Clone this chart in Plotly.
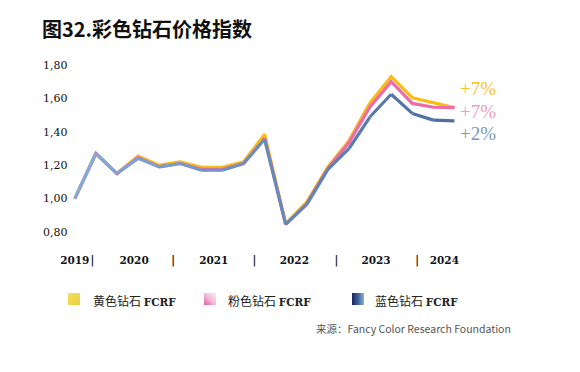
import base64
import plotly.graph_objects as go

# ---------------- data ----------------
quarters = ["2019Q4", "2020Q1", "2020Q2", "2020Q3", "2020Q4", "2021Q1", "2021Q2",
            "2021Q3", "2021Q4", "2022Q1", "2022Q2", "2022Q3", "2022Q4", "2023Q1",
            "2023Q2", "2023Q3", "2023Q4", "2024Q1", "2024Q2"]
yellow = [1.00, 1.27, 1.15, 1.255, 1.20, 1.22, 1.187, 1.187, 1.22, 1.385, 0.848,
          0.98, 1.19, 1.347, 1.574, 1.73, 1.604, 1.574, 1.545]
pink = [1.00, 1.27, 1.15, 1.245, 1.19, 1.21, 1.175, 1.175, 1.21, 1.36, 0.845,
        0.97, 1.18, 1.335, 1.55, 1.70, 1.57, 1.547, 1.545]
blue = [1.00, 1.27, 1.15, 1.241, 1.19, 1.21, 1.17, 1.17, 1.21, 1.355, 0.845,
        0.965, 1.175, 1.30, 1.49, 1.625, 1.51, 1.47, 1.465]
series_names = ["黄色钻石", "粉色钻石", "蓝色钻石"]
changes = ["+7%", "+7%", "+2%"]
x_tick_text = ["2019", "|", "2020", "|", "2021", "|", "2022", "|", "2023", "|", "2024"]
y_ticks = [0.8, 1.0, 1.2, 1.4, 1.6, 1.8]

# ---------------- layout constants ----------------
# the page body has an 8px margin, so figure coords = screen coords - 8
OFF = 8
W, H = 572, 364
ML, MT = 32, 55 - OFF
PW, PH = 425, 190
MR, MB = W - ML - PW, H - MT - PH
XR = [-1.65, 18.5]
x_tick_pos = [0.0, 0.84, 2.81, 4.66, 6.59, 8.52, 10.41, 12.4, 14.28, 16.23, 17.52]

YELLOW = "#F9BD16"
PINK = "#EE6BAA"
serif = "Liberation Serif"
tserif = "DejaVu Serif"
cjk = "Noto Sans CJK SC"


def px(sx):
    return (sx - OFF - ML) / PW


def py(sy):
    return 1 - (sy - OFF - MT) / PH


def hexrgb(h):
    h = h.lstrip("#")
    return tuple(int(h[i:i + 2], 16) for i in (0, 2, 4))


def lerp(c1, c2, t):
    a, b = hexrgb(c1), hexrgb(c2)
    return "rgb(%d,%d,%d)" % tuple(round(a[i] + (b[i] - a[i]) * t) for i in range(3))


fig = go.Figure()
fig.add_trace(go.Scatter(x=quarters, y=yellow, mode="lines", name=series_names[0],
                         line=dict(color=YELLOW, width=3.2), showlegend=False))
fig.add_trace(go.Scatter(x=quarters, y=pink, mode="lines", name=series_names[1],
                         line=dict(color=PINK, width=3.2), showlegend=False))
n = len(quarters)
for i in range(n - 1):
    t = i / (n - 2)
    fig.add_trace(go.Scatter(x=quarters[i:i + 2], y=blue[i:i + 2], mode="lines",
                             name=series_names[2],
                             line=dict(color=lerp("#82ABDA", "#4E6FA0", t), width=3.2),
                             showlegend=False, hoverinfo="skip"))

# end labels
lab_colors = ["#F6C233", "#F39BC4", "#7D98BC"]
lab_y = [88, 111, 134]
for txt, c, yp in zip(changes, lab_colors, lab_y):
    fig.add_annotation(x=px(458), y=py(yp), xref="paper", yref="paper",
                       text=txt, showarrow=False, xanchor="left", yanchor="middle",
                       font=dict(family=serif, size=19, color=c))

# title
fig.add_annotation(x=px(40), y=py(28), xref="paper", yref="paper",
                   text="<b>图32.彩色钻石价格指数</b>", showarrow=False,
                   xanchor="left", yanchor="middle",
                   font=dict(family=cjk, size=20, color="#111111"))


# legend squares via SVG gradients
def svg_square(stops, x1, y1, x2, y2):
    st = "".join('<stop offset="%s" stop-color="%s"/>' % (o, c) for o, c in stops)
    svg = ('<svg xmlns="http://www.w3.org/2000/svg" width="12" height="12">'
           '<defs><linearGradient id="g" x1="%s" y1="%s" x2="%s" y2="%s">%s</linearGradient></defs>'
           '<rect width="12" height="12" fill="url(#g)"/></svg>' % (x1, y1, x2, y2, st))
    return "data:image/svg+xml;base64," + base64.b64encode(svg.encode()).decode()


legend_items = [
    (68, 91, series_names[0], svg_square([(0, "#F3DF5C"), (1, "#E9CF3E")], 0, 0, 1, 1)),
    (204, 226, series_names[1], svg_square([(0, "#FBEAF3"), (0.5, "#F3BCD8"), (1, "#DC5FA8")], 1, 0, 0, 1)),
    (352, 373, series_names[2], svg_square([(0, "#17265A"), (0.5, "#3F5F96"), (1, "#8AB4DC")], 0, 0, 1, 0)),
]
images = []
for sq_x, tx, name, src in legend_items:
    images.append(dict(source=src, xref="paper", yref="paper",
                       x=px(sq_x), y=py(293),
                       sizex=12 / PW, sizey=12 / PH, xanchor="left", yanchor="top",
                       sizing="stretch", layer="above"))
    fig.add_annotation(x=px(tx), y=py(300), xref="paper", yref="paper",
                       text=name + ' <span style="font-family:%s;font-size:10.5px;font-weight:bold">FCRF</span>' % tserif,
                       showarrow=False, xanchor="left", yanchor="middle",
                       font=dict(family=cjk, size=12, color="#222222"))

# source
fig.add_annotation(x=px(513), y=py(328), xref="paper", yref="paper",
                   text="来源：Fancy Color Research Foundation", showarrow=False,
                   xanchor="right", yanchor="middle",
                   font=dict(family="Noto Sans CJK SC", size=10.5, color="#555555"))

fig.update_layout(
    width=W, height=H,
    margin=dict(l=ML, r=MR, t=MT, b=MB, pad=0),
    paper_bgcolor="white", plot_bgcolor="white",
    separators=",.",
    images=images,
    xaxis=dict(type="category", range=XR, tickmode="array",
               tickvals=x_tick_pos, ticktext=x_tick_text, showgrid=False,
               zeroline=False, showline=False, ticks="", tickangle=0,
               tickfont=dict(family=tserif, size=10.5, color="#111111", weight="bold"),
               ticklabelstandoff=7),
    yaxis=dict(range=[0.722, 1.86], tickmode="array", tickvals=y_ticks,
               tickformat=".2f", showgrid=False, zeroline=False, showline=False,
               ticks="", ticklabelposition="inside",
               tickfont=dict(family=tserif, size=11, color="#111111")),
    font=dict(family=serif),
)

fig.write_html("out.html")
